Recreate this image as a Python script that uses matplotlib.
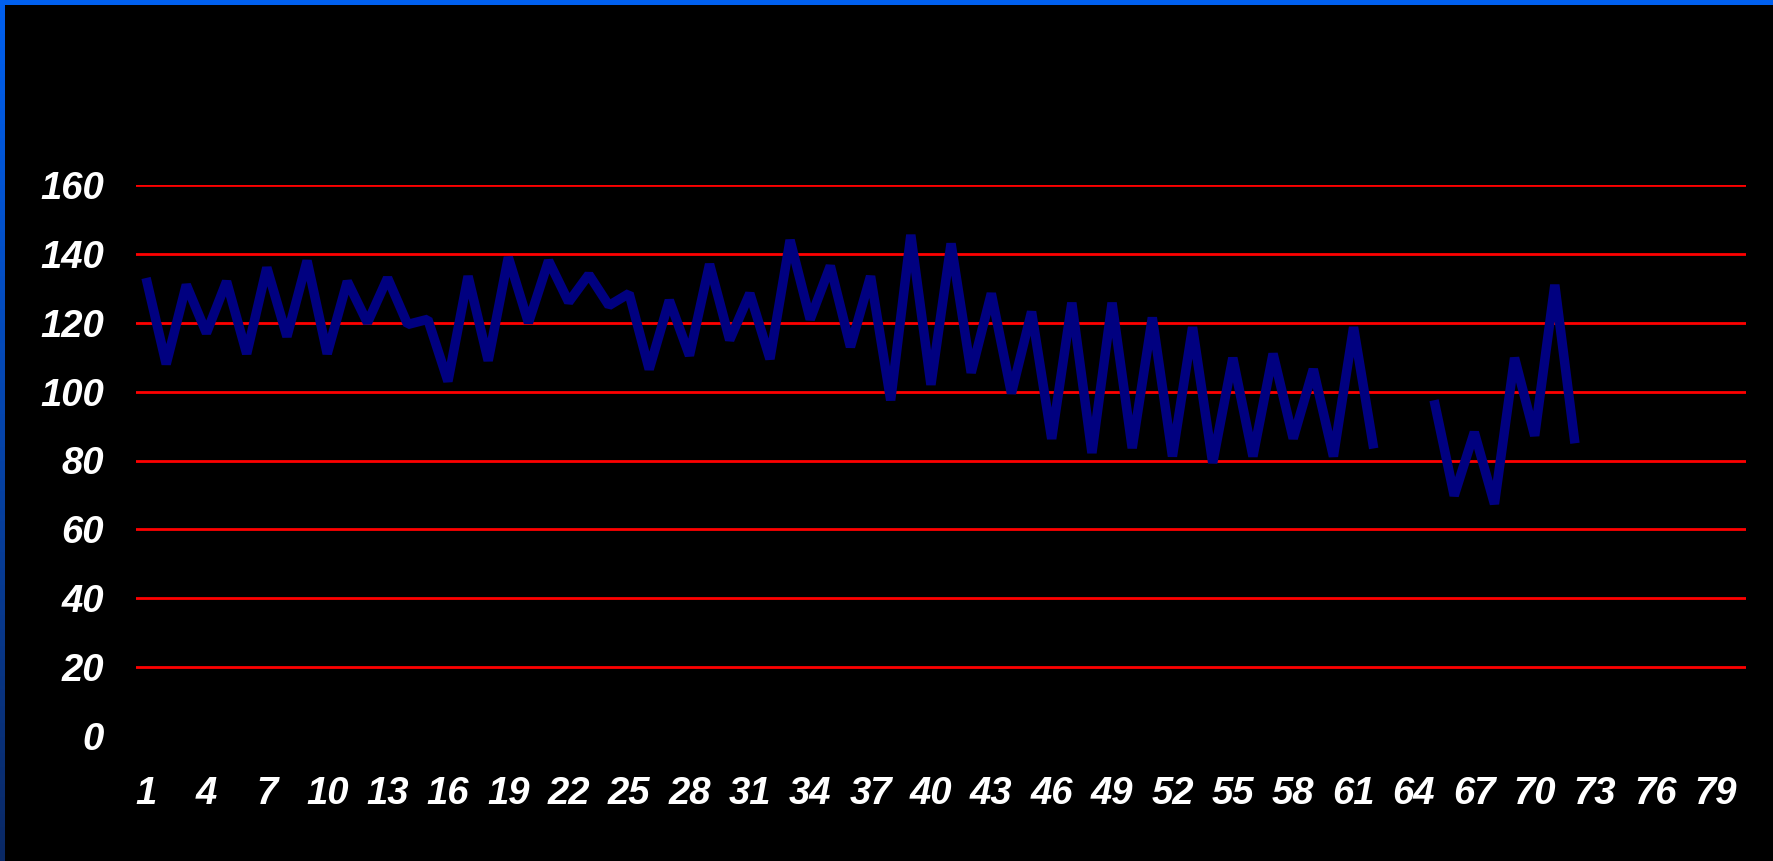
import numpy as np
import matplotlib
matplotlib.use("Agg")
import matplotlib.pyplot as plt
from matplotlib.patches import Rectangle

# ---- data ----
categories = list(range(1, 81))
values_part1 = [133, 108, 131, 117, 132, 111, 136, 116, 138, 111,
                132, 120, 133, 119.5, 121, 103, 133.5, 109, 139, 120,
                138, 126, 134, 125, 128.5, 106.5, 126.5, 110.5, 137, 115,
                128.5, 109.5, 144, 121, 136.5, 113, 133.5, 97.5, 145.5, 102,
                143, 105.5, 128.5, 99.5, 123.2, 86.3, 125.8, 82.2, 125.8, 83.6,
                121.5, 81.2, 118.7, 79.3, 109.8, 81.2, 111, 86.4, 106.5, 81.2,
                118.7, 83.5]
values_gap = [None, None]
values_part2 = [97.5, 69.8, 88.2, 67.4, 109.8, 87.2, 131, 85]
values = values_part1 + values_gap + values_part2
values = values + [None] * (len(categories) - len(values))
y_ticks = [0, 20, 40, 60, 80, 100, 120, 140, 160]
x_tick_labels = [str(c) for c in categories[::3]]

W, H = 1773, 861
fig = plt.figure(figsize=(W / 100, H / 100), dpi=100, facecolor="black")

# frame: blue top border and gradient left border
grad = np.linspace(0, 1, 256).reshape(-1, 1)
top_c = np.array([0, 96, 240]) / 255
bot_c = np.array([10, 40, 100]) / 255
img = top_c[None, None, :] * (1 - grad[:, :, None]) + bot_c[None, None, :] * grad[:, :, None]
ax_l = fig.add_axes([0, 0, 5 / W, 1])
ax_l.imshow(img, aspect="auto", extent=[0, 1, 0, 1])
ax_l.axis("off")
fig.patches.append(Rectangle((0, 1 - 5 / H), 1, 5 / H, transform=fig.transFigure,
                             facecolor=(0, 96 / 255, 240 / 255), edgecolor="none", zorder=5))

left, right = 136 / W, 1746 / W
bottom, top = 1 - 736 / H, 1 - 185 / H
ax = fig.add_axes([left, bottom, right - left, top - bottom])
ax.set_facecolor("black")

x = np.arange(len(categories))
y = np.array([np.nan if v is None else v for v in values], dtype=float)
ax.plot(x, y, color="#000080", linewidth=6.8, solid_joinstyle="bevel",
        solid_capstyle="butt", zorder=3)

ax.set_xlim(-0.5, len(categories) - 0.5)
ax.set_ylim(0, 160)
ax.set_yticks(y_ticks)
ax.set_yticklabels([str(t) for t in y_ticks])
ax.set_xticks(x[::3])
ax.set_xticklabels(x_tick_labels)

for t in y_ticks[1:]:
    ax.axhline(t, color="#ff0000", linewidth=2.0, zorder=1)

for s in ax.spines.values():
    s.set_visible(False)
ax.tick_params(axis="both", length=0, colors="white")
ax.tick_params(axis="y", pad=23)
ax.tick_params(axis="x", pad=29)
for lab in ax.get_xticklabels() + ax.get_yticklabels():
    lab.set_fontfamily("Liberation Sans")
    lab.set_fontweight("bold")
    lab.set_fontstyle("italic")
    lab.set_fontsize(27.5)
    lab.set_color("white")

fig.savefig("out.png", dpi=100, facecolor="black")
